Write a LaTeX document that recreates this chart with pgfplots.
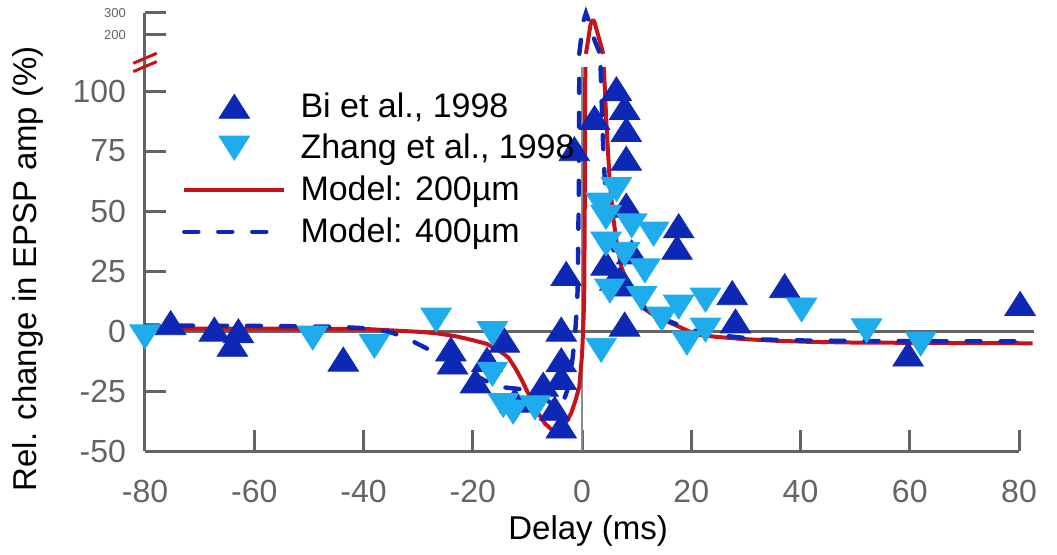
\documentclass[border=0pt]{standalone}
\usepackage{fontspec}
\setmainfont{Liberation Sans}
\usepackage{pgfplots}
\pgfplotsset{compat=1.18}
\definecolor{axgray}{RGB}{100,100,100}
\definecolor{zgray}{RGB}{140,140,140}
\definecolor{mred}{RGB}{200,18,26}
\definecolor{dblue}{RGB}{13,40,180}
\definecolor{lblue}{RGB}{30,172,236}
\begin{document}
\begin{tikzpicture}
\begin{axis}[
  scale only axis, width=437pt, height=219.15pt,
  xmin=-80, xmax=80, ymin=-50, ymax=300,
  y coord trafo/.code={\pgfmathparse{ifthenelse(#1>112,105.2+0.0917*#1,#1)}},
  axis x line=bottom, axis y line=left,
  axis line style={axgray, line width=1.5pt, -},
  every tick/.style={axgray, line width=1.5pt},
  tick align=inside, major tick length=10.5pt,
  xtick={-80,-60,...,80},
  ytick={-50,-25,0,25,50,75,100},
  yticklabels={-50,-25,0,25,50,75,100},
  extra y ticks={200,300}, extra y tick labels={200,300},
  extra y tick style={tick label style={font=\fontsize{6.5}{7}\selectfont}},
  tick label style={font=\fontsize{16}{19}\selectfont, text=axgray},
  xticklabel shift=11pt, yticklabel shift=6pt,
  /pgf/number format/assume math mode=true,
  clip=false,
  xlabel={Delay (ms)}, ylabel={Rel. change in EPSP amp (\%)},
  label style={font=\fontsize{16.5}{20}\selectfont},
  ylabel style={at={(axis description cs:-0.152,0.416)}, anchor=north, inner sep=0pt},
  xlabel style={at={(axis description cs:0.507,-0.203)}, anchor=base, inner sep=0pt},
  legend style={draw=none, fill=none, at={(0.042,0.828)}, anchor=north west,
    font=\fontsize{17}{20}\selectfont, row sep=3.1pt, inner sep=0pt},
  legend cell align=left,
  legend image code/.code={\draw[mark repeat=2,mark phase=2,#1] plot coordinates {(0pt,0pt) (25pt,0pt) (50pt,0pt)}; \path (55pt,0pt);},
]
% invisible frame giving the reference proportions
\path (axis cs:-80,-50) ++(-72.5pt,-51.5pt) rectangle ++(528.5pt,277pt);
\addplot[axgray, line width=1.5pt, forget plot] coordinates {(-80,0) (82.8,0)};
\addplot[zgray, line width=1.2pt, forget plot] coordinates {(0,-50) (0,110)};

\addplot[only marks, mark=triangle*, mark size=8pt,
  mark options={yshift=-2pt, xscale=1.1, draw=dblue, fill=dblue}] table {
x y
-75.3 3.5
-67.3 0.8
-62.9 0.1
-64.0 -5.5
-43.7 -11.7
-24.0 -7.5
-23.7 -12.9
-14.2 -3.8
-17.4 -11.8
-19.5 -20.8
-12.3 -28.8
-7.1 -22.2
-3.8 0.8
-3.8 -12.0
-3.8 -19.3
-5.0 -32.2
-3.8 -39.6
-2.9 24.0
-1.4 76.0
2.3 89.0
6.3 101.0
7.8 93.2
8.1 84.0
8.1 72.0
8.1 52.5
17.7 43.9
17.4 34.9
9.1 33.0
4.4 28.3
6.0 22.0
7.8 19.6
7.8 2.9
27.5 16.0
28.1 4.2
37.1 18.9
59.7 -9.6
80.2 11.5
};
\addlegendentry{Bi et al., 1998}

\addplot[only marks, mark=triangle*, mark size=8pt,
  mark options={yshift=2pt, rotate=180, xscale=1.1, draw=lblue, fill=lblue}] table {
x y
-80.0 -2.4
-49.3 -2.9
-38.0 -6.3
-26.7 4.6
-16.4 -1.0
-16.4 -18.0
-14.4 -31.0
-12.6 -33.8
-8.6 -32.0
3.5 -8.0
6.3 59.0
3.5 52.5
4.4 47.4
9.1 43.9
13.1 40.4
4.4 36.3
7.8 32.0
11.5 25.1
5.1 16.7
10.9 13.6
14.6 5.0
17.7 10.0
22.6 12.9
19.2 -5.0
22.6 0.4
40.2 8.8
52.1 0.1
62.0 -5.4
};
\addlegendentry{Zhang et al., 1998}

% Model 200 um
\addplot[mred, line width=2pt, line join=round] table {
x y
-80 1.0
-60 1.0
-45 0.9
-39 0.8
-35 0.3
-30 -0.3
-26.7 -0.9
-23 -2.2
-20 -3.8
-17.5 -5.3
-15.3 -7.9
-13.5 -11
-12.2 -15.5
-11 -20.5
-9.85 -26
-8 -34.3
-6.8 -38.5
-5.6 -41.0
-4.7 -41.3
-3.8 -40.5
-2.9 -38
-2.0 -34.3
-1.2 -29
-0.5 -23.2
0.0 -10
0.2 0
0.4 13
0.5 50
0.6 110
};
\addlegendentry{Model: 200µm}
\addplot[mred, line width=2pt, line join=round, forget plot] table {
x y
0.72 113
1.55 245
1.8 262
2.0 266
2.25 260
3.9 113
};
\addplot[mred, line width=2pt, line join=round, forget plot] table {
x y
4.0 110
4.5 85
5.06 63
5.7 47.6
6.4 36
7.2 26.8
8.5 18.5
10.9 10.1
13.5 6
17.1 2.5
20.8 -1.4
24.5 -2.4
29.4 -3.3
35 -4.0
41.7 -4.5
50 -4.8
60 -4.9
70 -5.0
82.5 -5.1
};

% Model 400 um
\addplot[dblue, line width=2.2pt, line cap=round, dash pattern=on 7pt off 10pt] table {
x y
-80 2.3
-60 2.2
-45 1.8
-39 1.1
-35.2 -0.4
-32.5 -2.5
-28.9 -6.7
-26.4 -9.6
-22 -15
-18 -20.4
-15 -23.3
-11.3 -24.2
-9.2 -24.9
-7 -28
-5 -31
-3.5 -30
-2.3 -22
-1.7 -10.8
-1.3 -2.5
-1.0 8
-0.8 17
-0.6 56
-0.5 110
};
\addlegendentry{Model: 400µm}
\addplot[dblue, line width=2.2pt, line cap=round, dash pattern=on 7pt off 10pt, forget plot] table {
x y
-0.5 113
-0.2 175
0.3 265
0.72 298
1.2 265
2.3 175
3.3 113
};
\addplot[dblue, line width=2.2pt, line cap=round, dash pattern=on 7pt off 10pt, forget plot] table {
x y
3.4 110
3.8 81
4.1 66
4.6 50
5.3 38
6.2 30
7.2 24
9 16
11.9 8.8
14 6
17.7 2.5
20.2 0.4
23.9 -1.25
26.7 -2.1
30.4 -3
33.1 -3.5
39.9 -3.9
50 -4.1
60 -4.2
80 -4.3
};

% axis break marks
\draw[mred, line width=1.5pt] ([xshift=-5.85pt,yshift=-2.5pt]axis description cs:0,0.896) -- ([xshift=5.85pt,yshift=2.5pt]axis description cs:0,0.896);
\draw[mred, line width=1.5pt] ([xshift=-5.85pt,yshift=-2.5pt]axis description cs:0,0.877) -- ([xshift=5.85pt,yshift=2.5pt]axis description cs:0,0.877);
\end{axis}
\end{tikzpicture}
\end{document}
